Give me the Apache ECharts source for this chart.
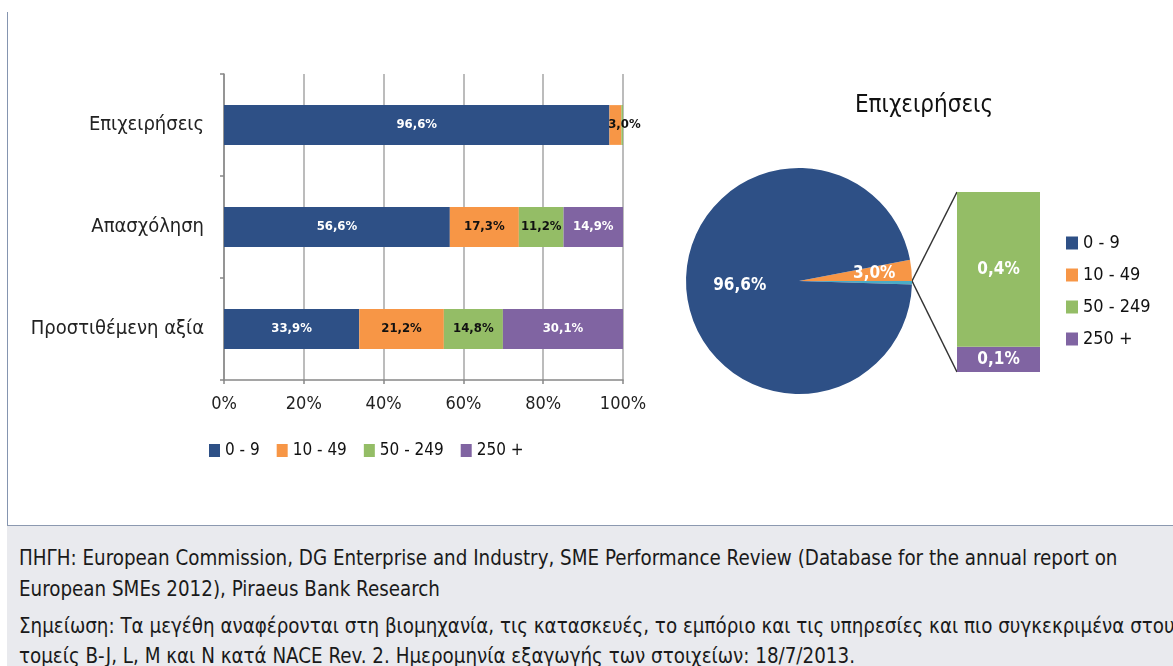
<!DOCTYPE html>
<html>
<head>
<meta charset="utf-8">
<script src="https://cdn.jsdelivr.net/npm/echarts@6/dist/echarts.min.js"></script>
<style>
  html, body { margin: 0; padding: 0; background: #fff; }
  #wrap { position: relative; width: 1173px; height: 666px; overflow: hidden; }
  #chart { position: absolute; left: 0; top: 0; width: 1173px; height: 666px; }
  #leftline { position: absolute; left: 7px; top: 12px; width: 0; height: 513px; border-left: 1.5px solid #8595b0; }
  #footer { position: absolute; left: 7px; top: 525px; width: 1166px; height: 141px; background: #e9eaee;
            border-top: 1.5px solid #8c99b0; overflow: hidden;
            font-family: 'DejaVu Sans Condensed', 'DejaVu Sans', sans-serif; font-size: 22px; color: #1a1a1a; }
  #footer div { position: absolute; left: 12px; white-space: nowrap; line-height: 30px;
                transform: scaleX(0.925); transform-origin: 0 50%; }
</style>
</head>
<body>
<div id="wrap">
  <div id="chart"></div>
  <div id="leftline"></div>
  <div id="footer">
    <div style="top:17px">ΠΗΓΗ: European Commission, DG Enterprise and Industry, SME Performance Review (Database for the annual report on</div>
    <div style="top:48px">European SMEs 2012), Piraeus Bank Research</div>
    <div style="top:85px">Σημείωση: Τα μεγέθη αναφέρονται στη βιομηχανία, τις κατασκευές, το εμπόριο και τις υπηρεσίες και πιο συγκεκριμένα στους</div>
    <div style="top:115px">τομείς B-J, L, M και N κατά NACE Rev. 2. Ημερομηνία εξαγωγής των στοιχείων: 18/7/2013.</div>
  </div>
</div>
<script>
var categories = ['Επιχειρήσεις', 'Απασχόληση', 'Προστιθέμενη αξία'];
var sizeClasses = ['0 - 9', '10 - 49', '50 - 249', '250 +'];
var micro = [96.6, 56.6, 33.9];
var small = [3.0, 17.3, 21.2];
var medium = [0.43, 11.2, 14.8];
var large = [0.07, 14.9, 30.1];
var xTicks = [0, 20, 40, 60, 80, 100];
var pieTitle = 'Επιχειρήσεις';
var otherName = 'Λοιπά';

var colors = ['#2e5086', '#f79646', '#94bd66', '#8064a2'];
var otherColor = '#4bacc6';
var FONT = "'DejaVu Sans Condensed', 'DejaVu Sans', sans-serif";

// layout
var gridA = { left: 224, top: 74, width: 399, height: 306 };
var gridB = { left: 957, top: 192, width: 83, height: 180 };
var pieCenter = [799, 281];
var pieRadius = 113;

function pct(v) {
    return v.toFixed(1).replace('.', ',') + '%';
}

var seriesValues = [micro, small, medium, large];
var labelColors = ['#fff', '#111', '#111', '#fff'];

var barSeries = sizeClasses.map(function (name, i) {
    return {
        name: name,
        type: 'bar',
        stack: 'total',
        xAxisIndex: 0,
        yAxisIndex: 0,
        barWidth: '39%',
        data: seriesValues[i].map(function (v) {
            // a thin segment keeps its label, nudged past the bar end
            return v < 5 && v >= 1 ? { value: v, label: { offset: [9, 0] } } : v;
        }),
        itemStyle: { color: colors[i] },
        label: {
            show: true,
            position: 'inside',
            color: labelColors[i],
            fontFamily: FONT,
            fontWeight: 'bold',
            fontSize: 13,
            formatter: function (p) { return p.value < 1 ? '' : pct(p.value); }
        }
    };
});

// first row = Επιχειρήσεις, used for the pie
var pieTotal = micro[0] + small[0] + medium[0] + large[0];
var otherTotal = medium[0] + large[0];

var pieSeries = {
    type: 'pie',
    center: pieCenter,
    radius: pieRadius,
    startAngle: small[0] / pieTotal * 360,
    clockwise: true,
    silent: true,
    data: [
        { name: sizeClasses[1], value: small[0], itemStyle: { color: colors[1] },
          label: { offset: [16, -2] } },
        { name: otherName, value: otherTotal, itemStyle: { color: otherColor }, label: { show: false } },
        { name: sizeClasses[0], value: micro[0], itemStyle: { color: colors[0] } }
    ],
    label: {
        show: true,
        position: 'inside',
        color: '#fff',
        fontFamily: FONT,
        fontWeight: 'bold',
        fontSize: 17,
        formatter: function (p) { return pct(p.value); }
    },
    labelLine: { show: false }
};

var otherBars = [
    { name: sizeClasses[3], value: large[0], color: colors[3] },
    { name: sizeClasses[2], value: medium[0], color: colors[2] }
].map(function (d) {
    return {
        name: d.name,
        type: 'bar',
        stack: 'other',
        xAxisIndex: 1,
        yAxisIndex: 1,
        barWidth: '100%',
        data: [d.value],
        itemStyle: { color: d.color },
        label: {
            show: true,
            position: 'inside',
            color: '#fff',
            fontFamily: FONT,
            fontWeight: 'bold',
            fontSize: 17,
            formatter: function (p) { return pct(p.value); }
        }
    };
});

var option = {
    animation: false,
    textStyle: { fontFamily: FONT },
    title: {
        text: pieTitle,
        left: 919,
        top: 89,
        textAlign: 'center',
        textStyle: { fontFamily: FONT, fontWeight: 'normal', fontSize: 24, color: '#111' }
    },
    legend: [
        {
            data: sizeClasses,
            left: 204,
            top: 437,
            itemWidth: 11,
            itemHeight: 13,
            itemGap: 17,
            icon: 'rect',
            textStyle: { fontFamily: FONT, fontSize: 17, color: '#111' }
        },
        {
            data: sizeClasses,
            orient: 'vertical',
            left: 1061,
            top: 229,
            itemWidth: 12,
            itemHeight: 13,
            itemGap: 14,
            icon: 'rect',
            textStyle: { fontFamily: FONT, fontSize: 18, color: '#111' }
        }
    ],
    grid: [
        { left: gridA.left, top: gridA.top, width: gridA.width, height: gridA.height, outerBoundsMode: 'none' },
        { left: gridB.left, top: gridB.top, width: gridB.width, height: gridB.height, outerBoundsMode: 'none' }
    ],
    xAxis: [
        {
            type: 'value',
            gridIndex: 0,
            min: xTicks[0],
            max: xTicks[xTicks.length - 1],
            interval: xTicks[1] - xTicks[0],
            axisLine: { show: true, lineStyle: { color: '#888', width: 1.5 } },
            axisTick: { show: true, length: 4, lineStyle: { color: '#888', width: 1.5 } },
            splitLine: { show: true, lineStyle: { color: '#a6a6a6', width: 1.5 } },
            axisLabel: { formatter: '{value}%', fontFamily: FONT, fontSize: 18, color: '#222', margin: 15 }
        },
        {
            type: 'category',
            gridIndex: 1,
            data: [otherName],
            show: false
        }
    ],
    yAxis: [
        {
            type: 'category',
            gridIndex: 0,
            inverse: true,
            data: categories,
            axisLine: { show: true, lineStyle: { color: '#888', width: 1.5 } },
            axisTick: { show: true, length: 4, lineStyle: { color: '#888', width: 1.5 } },
            axisLabel: { fontFamily: FONT, fontSize: 20, color: '#222', margin: 20 }
        },
        {
            type: 'value',
            gridIndex: 1,
            min: 0,
            max: otherTotal,
            show: false
        }
    ],
    series: barSeries.concat([pieSeries]).concat(otherBars)
};

var chart = echarts.init(document.getElementById('chart'));
chart.setOption(option);

// connector lines from the pie's "other" slice to the stacked bar
var edge = [pieCenter[0] + pieRadius, pieCenter[1]];
var barTop = chart.convertToPixel({ yAxisIndex: 1 }, otherTotal);
var barBottom = chart.convertToPixel({ yAxisIndex: 1 }, 0);
chart.setOption({
    graphic: [
        { type: 'line', silent: true, shape: { x1: edge[0], y1: edge[1], x2: gridB.left, y2: barTop },
          style: { stroke: '#333', lineWidth: 1.5 } },
        { type: 'line', silent: true, shape: { x1: edge[0], y1: edge[1], x2: gridB.left, y2: barBottom },
          style: { stroke: '#333', lineWidth: 1.5 } }
    ]
});
</script>
</body>
</html>
